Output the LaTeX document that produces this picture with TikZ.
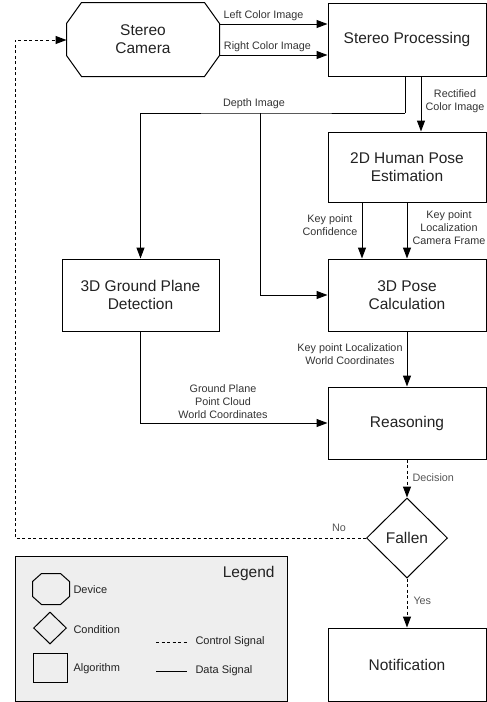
\documentclass[tikz,border=0pt]{standalone}
\usepackage{fontspec}
\setmainfont{Liberation Sans}
\usetikzlibrary{positioning, arrows.meta, shapes.geometric, calc}
\definecolor{boxText}{HTML}{222222}
\definecolor{lblText}{HTML}{333333}
\definecolor{ctlText}{HTML}{555555}
\definecolor{legendFill}{HTML}{EEEEEE}
\newcommand\drawoct[3]{%
  \draw ($(#1.north west)+(#2,0)$) -- ($(#1.north east)+(-#2,0)$)
    -- ($(#1.north east)+(0,#3)$) -- ($(#1.south east)+(0,-#3)$)
    -- ($(#1.south east)+(-#2,0)$) -- ($(#1.south west)+(#2,0)$)
    -- ($(#1.south west)+(0,-#3)$) -- ($(#1.north west)+(0,#3)$) -- cycle;}

\begin{document}
\begin{tikzpicture}[
  x=1pt, y=-1pt, line width=1pt,
  box/.style={draw, minimum width=158pt, minimum height=72pt, align=center,
              text=boxText, font=\fontsize{15.5}{18}\selectfont},
  device/.style={box, draw=none},
  cond/.style={draw, diamond, inner sep=0pt, minimum width=81pt, minimum height=80pt,
               text=boxText, font=\fontsize{15.5}{18}\selectfont},
  lbl/.style={align=center, text=lblText, inner sep=0pt, font=\fontsize{10.8}{12.8}\selectfont},
  ctl/.style={lbl, text=ctlText},
  item/.style={anchor=west, inner sep=0pt, text=boxText, font=\fontsize{11}{13}\selectfont},
  data/.style={-{Triangle[length=11pt,width=8pt]}},
  ctrl/.style={data, dash pattern=on 3pt off 2.5pt},
]
  \useasboundingbox (0,0) rectangle (487,702);

  \node[device, minimum width=152pt, minimum height=73pt] (cam) at (143,39.5) {Stereo\\Camera};
  \drawoct{cam}{15}{21}
  \node[box, minimum height=73pt] (stereo) at (407,39.5) {Stereo Processing};
  \node[box, minimum height=70pt] (pose2d) at (407,167) {2D Human Pose\\Estimation};
  \node[box, minimum width=157pt] (ground) at (140.5,295) {3D Ground Plane\\Detection};
  \node[box] (pose3d) at (407,295) {3D Pose\\Calculation};
  \node[box] (reason) at (407,423) {Reasoning};
  \node[cond] (fallen) at (407,538) {Fallen};
  \node[box, minimum height=73pt] (notif) at (407,664.5) {Notification};

  \draw[data] (cam.east |- 0,24) -- node[lbl, above=3pt, xshift=-10pt] {Left Color Image} (stereo.west |- 0,24);
  \draw[data] (cam.east |- 0,55) -- node[lbl, above=3pt, xshift=-6pt] {Right Color Image} (stereo.west |- 0,55);

  \coordinate (dcorner) at (405,113);
  \coordinate (dsplit) at (260,113);
  \draw (stereo.south -| dcorner) -- (dcorner);
  \draw[data] (dcorner) -- (dsplit) -| (ground.north);
  \draw[data] (dsplit) |- (pose3d.west);
  \node[lbl] at (254,104) {Depth Image};

  \draw[data] (stereo.south -| 421,0) -- (pose2d.north -| 421,0);
  \node[lbl] at (455,101.5) {Rectified\\Color Image};

  \draw[data] (pose2d.south -| 362,0) -- (pose3d.north -| 362,0);
  \draw[data] (pose2d.south -| 407,0) -- (pose3d.north -| 407,0);
  \node[lbl] at (330,225.5) {Key point\\Confidence};
  \node[lbl] at (449,227.5) {Key point\\Localization\\Camera Frame};

  \draw[data] (pose3d.south) -- (reason.north);
  \node[lbl] at (350,354.5) {Key point Localization\\World Coordinates};

  \draw[data] (ground.south) |- (reason.west);
  \node[lbl] at (223,401.5) {Ground Plane\\Point Cloud\\World Coordinates};

  \draw[ctrl] (reason.south) -- (fallen.north);
  \node[ctl, anchor=west] at (412,478) {Decision};
  \draw[ctrl] (fallen.south) -- (notif.north);
  \node[ctl, anchor=west] at (413,601) {Yes};

  \coordinate (nobottom) at (15,538);
  \coordinate (notop) at (15,40);
  \draw[ctrl] (fallen.west) -- (nobottom) -- (notop) -- (cam.west |- notop);
  \node[ctl] at (339,528) {No};

  \node[draw, fill=legendFill, minimum width=272pt, minimum height=145pt, inner sep=0pt] (legend) at (151,628.5) {};
  \node[anchor=east, inner sep=0pt, text=boxText, font=\fontsize{15.5}{18}\selectfont] (legtitle) at (275,573) {Legend};
  \node[minimum width=36pt, minimum height=30pt, inner sep=0pt] (legdev) at (51,589) {};
  \drawoct{legdev}{9}{8}
  \node[draw, diamond, minimum width=33pt, minimum height=32pt, inner sep=0pt] (legcond) at (50,628) {};
  \node[draw, minimum width=34pt, minimum height=29pt, inner sep=0pt] (legalg) at (50,667.5) {};
  \node[item] at (73,590) {Device};
  \node[item] at (73,630) {Condition};
  \node[item] at (73,669) {Algorithm};
  \coordinate (ctla) at (156,642);
  \coordinate (ctlb) at (187,642);
  \coordinate (data) at (156,671);
  \coordinate (datb) at (187,671);
  \draw[dash pattern=on 3pt off 2.5pt] (ctla) -- (ctlb);
  \draw (data) -- (datb);
  \node[item] at (195,642) {Control Signal};
  \node[item] at (195,671) {Data Signal};
\end{tikzpicture}
\end{document}
